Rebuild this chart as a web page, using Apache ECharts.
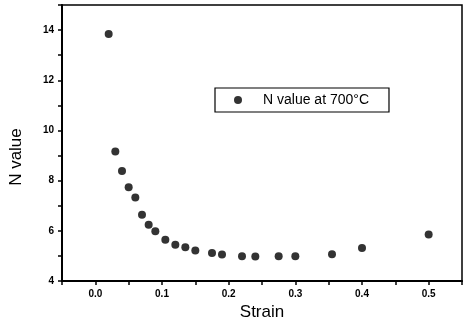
<!DOCTYPE html>
<html>
<head>
<meta charset="utf-8">
<script src="https://cdn.jsdelivr.net/npm/echarts@6/dist/echarts.min.js"></script>
<style>html,body{margin:0;padding:0;background:#fff}#c{width:465px;height:326px}</style>
</head>
<body>
<div id="c"></div>
<script>
var strain = [0.02, 0.03, 0.04, 0.05, 0.06, 0.07, 0.08, 0.09, 0.105, 0.12, 0.135, 0.15, 0.175, 0.19, 0.22, 0.24, 0.275, 0.30, 0.355, 0.40, 0.50];
var nValue = [13.84, 9.16, 8.39, 7.74, 7.33, 6.64, 6.25, 5.99, 5.65, 5.45, 5.35, 5.22, 5.12, 5.06, 4.99, 4.98, 4.99, 4.99, 5.07, 5.32, 5.86];
var seriesName = 'N value at 700\u00b0C';
var xTitle = 'Strain';
var yTitle = 'N value';

var chart = echarts.init(document.getElementById('c'), null, {renderer: 'canvas'});
var pts = strain.map(function (s, i) { return [s, nValue[i]]; });
chart.setOption({
  animation: false,
  backgroundColor: '#fff',
  grid: {left: 62, right: 3, top: 5, bottom: 40, show: true, borderColor: '#000', borderWidth: 1.5},
  legend: {
    left: 215, top: 88,
    data: [seriesName],
    icon: 'circle', itemWidth: 8, itemHeight: 8,
    padding: [5, 20, 5, 19],
    borderColor: '#000', borderWidth: 1.2, borderRadius: 0,
    textStyle: {fontFamily: 'Liberation Sans, Arial', fontSize: 14, color: '#000', padding: [0, 0, 0, 16]}
  },
  xAxis: {
    type: 'value', min: -0.05, max: 0.55, interval: 0.05,
    name: xTitle, nameLocation: 'middle', nameGap: 15,
    nameTextStyle: {fontFamily: 'Liberation Sans, Arial', fontSize: 17, color: '#000'},
    axisLine: {onZero: false, lineStyle: {color: '#000', width: 2}},
    axisTick: {show: true, length: 4, lineStyle: {color: '#000', width: 1.5}},
    axisLabel: {fontFamily: 'Liberation Sans, Arial', fontWeight: 'bold', fontSize: 10, color: '#000', margin: 8,
      formatter: function (v) {
        var r = Math.round(v * 100);
        if (r % 10 !== 0 || r < 0 || r > 50) return '';
        return (r / 100).toFixed(1);
      }},
    splitLine: {show: false}
  },
  yAxis: {
    type: 'value', min: 4, max: 15, interval: 1,
    name: yTitle, nameLocation: 'middle', nameGap: 37,
    nameTextStyle: {fontFamily: 'Liberation Sans, Arial', fontSize: 17, color: '#000', padding: [0, 28, 0, 0]},
    axisLine: {onZero: false, lineStyle: {color: '#000', width: 2}},
    axisTick: {show: true, length: 4, lineStyle: {color: '#000', width: 1.5}},
    axisLabel: {fontFamily: 'Liberation Sans, Arial', fontWeight: 'bold', fontSize: 10, color: '#000', margin: 8,
      formatter: function (v) { return (v % 2 === 0 && v <= 14) ? String(v) : ''; }},
    splitLine: {show: false}
  },
  series: [{
    name: seriesName,
    type: 'scatter',
    data: pts,
    symbol: 'circle',
    symbolSize: 8,
    itemStyle: {color: '#000'}
  }]
});
</script>
</body>
</html>
